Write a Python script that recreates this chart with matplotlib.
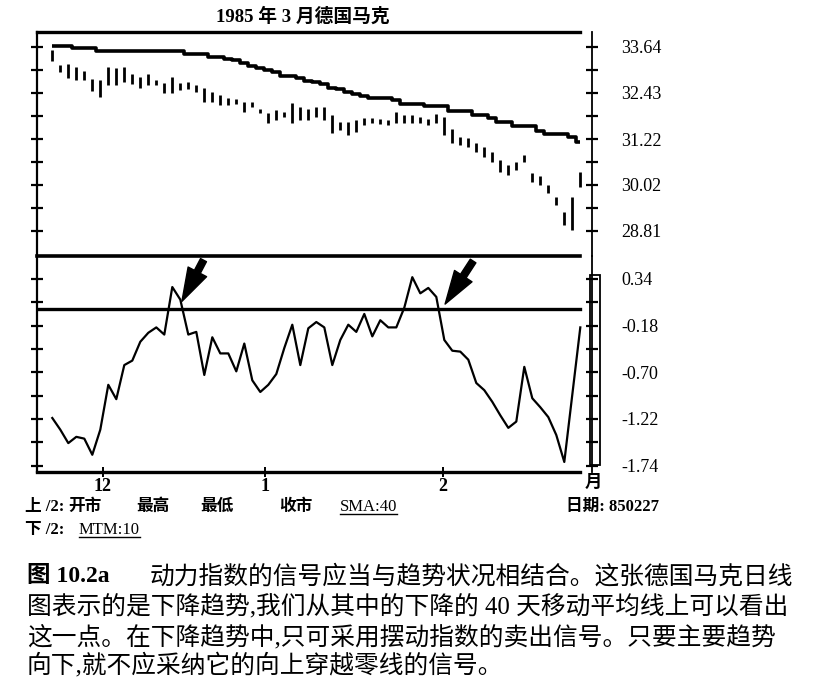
import matplotlib
matplotlib.use('Agg')
import matplotlib.pyplot as plt
from matplotlib.lines import Line2D
from matplotlib.patches import Rectangle
import numpy as np

plt.rcParams['font.family'] = ['Liberation Serif', 'Noto Sans CJK SC', 'DejaVu Sans']

# ---------------- data ----------------
title = '1985 年 3 月德国马克'
high = [33.55, 33.16, 33.19, 33.11, 33.00, 32.79, 32.77, 33.11, 33.08, 33.11,
        32.92, 32.85, 32.92, 32.77, 32.69, 32.85, 32.69, 32.71, 32.64, 32.56,
        32.45, 32.37, 32.29, 32.27, 32.19, 32.19, 32.00, 31.90, 31.98, 31.93,
        32.16, 32.06, 32.00, 32.06, 32.06, 31.85, 31.66, 31.66, 31.72, 31.77,
        31.77, 31.74, 31.72, 31.93, 31.85, 31.85, 31.80, 31.74, 31.87, 31.80,
        31.48, 31.27, 31.24, 31.11, 31.01, 30.88, 30.67, 30.54, 30.61, 30.80,
        30.32, 30.25, 30.01, 29.70, 29.30, 29.70, 30.35]
low = [33.27, 32.98, 32.82, 32.77, 32.77, 32.48, 32.32, 32.64, 32.64, 32.71,
       32.66, 32.56, 32.64, 32.64, 32.42, 32.42, 32.50, 32.53, 32.45, 32.19,
       32.19, 32.11, 32.11, 32.14, 31.93, 32.06, 31.90, 31.64, 31.72, 31.80,
       31.64, 31.72, 31.72, 31.80, 31.72, 31.38, 31.45, 31.32, 31.40, 31.58,
       31.64, 31.61, 31.58, 31.64, 31.64, 31.64, 31.64, 31.58, 31.64, 31.32,
       31.11, 31.06, 31.01, 30.88, 30.75, 30.61, 30.35, 30.27, 30.40, 30.61,
       30.09, 30.01, 29.80, 29.49, 28.96, 28.83, 29.96]
sma40 = [33.67, 33.67, 33.67, 33.60, 33.60, 33.60, 33.53, 33.53, 33.53, 33.53,
         33.53, 33.53, 33.53, 33.53, 33.53, 33.53, 33.53, 33.46, 33.46, 33.46,
         33.38, 33.38, 33.31, 33.29, 33.21, 33.13, 33.08, 33.03, 32.98, 32.87,
         32.87, 32.82, 32.75, 32.72, 32.67, 32.57, 32.53, 32.45, 32.40, 32.35,
         32.29, 32.29, 32.29, 32.24, 32.15, 32.15, 32.14, 32.08, 32.08, 32.08,
         31.96, 31.96, 31.96, 31.85, 31.85, 31.76, 31.67, 31.67, 31.56, 31.56,
         31.56, 31.44, 31.35, 31.35, 31.35, 31.27, 31.15]
mtm10 = [-1.21, -1.34, -1.49, -1.42, -1.44, -1.62, -1.34, -0.84, -1.00, -0.62,
         -0.57, -0.36, -0.26, -0.20, -0.28, 0.25, 0.11, -0.28, -0.25, -0.73,
         -0.31, -0.49, -0.49, -0.69, -0.38, -0.79, -0.92, -0.84, -0.72, -0.43,
         -0.17, -0.62, -0.21, -0.14, -0.20, -0.62, -0.34, -0.17, -0.25, -0.05,
         -0.30, -0.12, -0.20, -0.20, 0.02, 0.36, 0.18, 0.24, 0.14, -0.34,
         -0.46, -0.47, -0.56, -0.82, -0.90, -1.03, -1.18, -1.32, -1.25, -0.64,
         -0.99, -1.09, -1.20, -1.40, -1.70, -0.95, -0.20]
month_tick_idx = [6.3, 26.6, 48.8]
month_labels = ['12', '1', '2']
price_ticks = [33.64, 32.43, 31.22, 30.02, 28.81]
price_minor = [33.035, 31.825, 30.62, 29.415]
mtm_ticks = [0.34, -0.18, -0.70, -1.22, -1.74]
mtm_minor = [0.08, -0.44, -0.96, -1.48]
arrow_tips = [(16.2, 0.09), (49.1, 0.06)]
arrow_tails = [(18.9, 0.55), (52.6, 0.54)]
legend_top = ['上 /2:', '开市', '最高', '最低', '收市']
legend_top_ul = 'SMA:40'
legend_bottom = '下 /2:'
legend_bottom_ul = 'MTM:10'
date_text = '日期: 850227'
caption_head = '图 10.2a'
caption_lines = ['动力指数的信号应当与趋势状况相结合。这张德国马克日线',
                 '图表示的是下降趋势,我们从其中的下降的 40 天移动平均线上可以看出',
                 '这一点。在下降趋势中,只可采用摆动指数的卖出信号。只要主要趋势',
                 '向下,就不应采纳它的向上穿越零线的信号。']

# ---------------- layout ----------------
W, H = 832, 686
fig = plt.figure(figsize=(W / 100, H / 100), dpi=100)
fig.patch.set_facecolor('white')

def fx(px):
    return px / W

def fy(py):
    return 1 - py / H

L, R = 37, 592
ax1 = fig.add_axes([fx(L), fy(256), (R - L) / W, (256 - 32) / H])
ax2 = fig.add_axes([fx(L), fy(472), (R - L) / W, (472 - 256) / H])

x = np.arange(len(high))
xl = ((L - 52.3) / 8.0, (R - 52.3) / 8.0)
xend = (580 - 52.3) / 8.0

for ax in (ax1, ax2):
    ax.set_xlim(*xl)
    ax.set_facecolor('none')
    ax.spines['left'].set_linewidth(1.6)
    ax.spines['right'].set_linewidth(1.3)
    ax.tick_params(axis='y', which='both', direction='inout', length=8, width=1.6,
                   left=True, right=True, labelleft=False, labelright=True,
                   labelsize=13, pad=17)

ax1.set_ylim(28.15, 34.03)
ax2.set_ylim(-1.812, 0.596)

ax1.spines['top'].set_linewidth(2.4)
ax1.spines['top'].set_bounds(xl[0], xend)
ax1.spines['bottom'].set_visible(False)
ax2.spines['top'].set_linewidth(2.6)
ax2.spines['top'].set_bounds(xl[0], xend)
ax2.spines['bottom'].set_linewidth(2.4)
ax2.spines['bottom'].set_bounds(xl[0], xend)

ax1.set_yticks(price_ticks)
ax1.set_yticklabels([f'{v:.2f}' for v in price_ticks])
ax1.set_yticks(price_minor, minor=True)
ax1.set_xticks([])

ax2.set_yticks(mtm_ticks)
ax2.set_yticklabels([f'{v:.2f}' for v in mtm_ticks])
ax2.set_yticks(mtm_minor, minor=True)
ax2.set_xticks(month_tick_idx)
ax2.set_xticklabels(month_labels, fontsize=13, fontweight='bold')
ax2.tick_params(axis='x', direction='inout', length=7, width=1.4, pad=1)

# price bars and SMA
ax1.vlines(x, low, high, color='black', lw=2.0)
ax1.plot(x, sma40, color='black', lw=2.6, drawstyle='steps-mid', solid_capstyle='butt')

# momentum
ax2.axhline(0, xmin=0, xmax=(xend - xl[0]) / (xl[1] - xl[0]), color='black', lw=2.4)
ax2.plot(x, mtm10, color='black', lw=1.6)

for tip, tail in zip(arrow_tips, arrow_tails):
    ax2.annotate('', xy=tip, xytext=tail,
                 arrowprops=dict(arrowstyle='simple,head_length=1.6,head_width=1.0,tail_width=0.32',
                                 color='black', mutation_scale=15, shrinkA=0, shrinkB=0))

# narrow bracket box right of lower panel
fig.add_artist(Rectangle((fx(590), fy(465)), 10 / W, 190 / H, transform=fig.transFigure,
                         fill=False, lw=1.3, color='black'))

# texts
fig.text(fx(303), fy(17), title, ha='center', va='center', fontsize=13.5, fontweight='bold')
fig.text(fx(593), fy(483), '月', ha='center', va='center', fontsize=12.5, fontweight='bold')

row1, row2 = 507, 530
xs = [25, 68, 136, 200, 279]
for t, px in zip(legend_top, xs):
    fig.text(fx(px), fy(row1), t, ha='left', va='center', fontsize=12, fontweight='bold')
ul1 = fig.text(fx(340), fy(row1), legend_top_ul, ha='left', va='center', fontsize=12)
fig.text(fx(566), fy(row1), date_text, ha='left', va='center', fontsize=12, fontweight='bold')
fig.text(fx(25), fy(row2), legend_bottom, ha='left', va='center', fontsize=12, fontweight='bold')
ul2 = fig.text(fx(79), fy(row2), legend_bottom_ul, ha='left', va='center', fontsize=12)

cap_y = [577, 607, 637, 665]
fig.text(fx(27), fy(cap_y[0]), caption_head, ha='left', va='center', fontsize=17, fontweight='bold')
fig.text(fx(150), fy(cap_y[0]), caption_lines[0], ha='left', va='center', fontsize=17.8)
for line, py in zip(caption_lines[1:], cap_y[1:]):
    fig.text(fx(27), fy(py), line, ha='left', va='center', fontsize=17.8)

fig.canvas.draw()
for t in (ul1, ul2):
    bb = t.get_window_extent()
    fig.add_artist(Line2D([bb.x0 / W, bb.x1 / W], [(bb.y0 + 1) / H, (bb.y0 + 1) / H],
                          transform=fig.transFigure, color='black', lw=1.0))

fig.savefig('out.png', dpi=100)
